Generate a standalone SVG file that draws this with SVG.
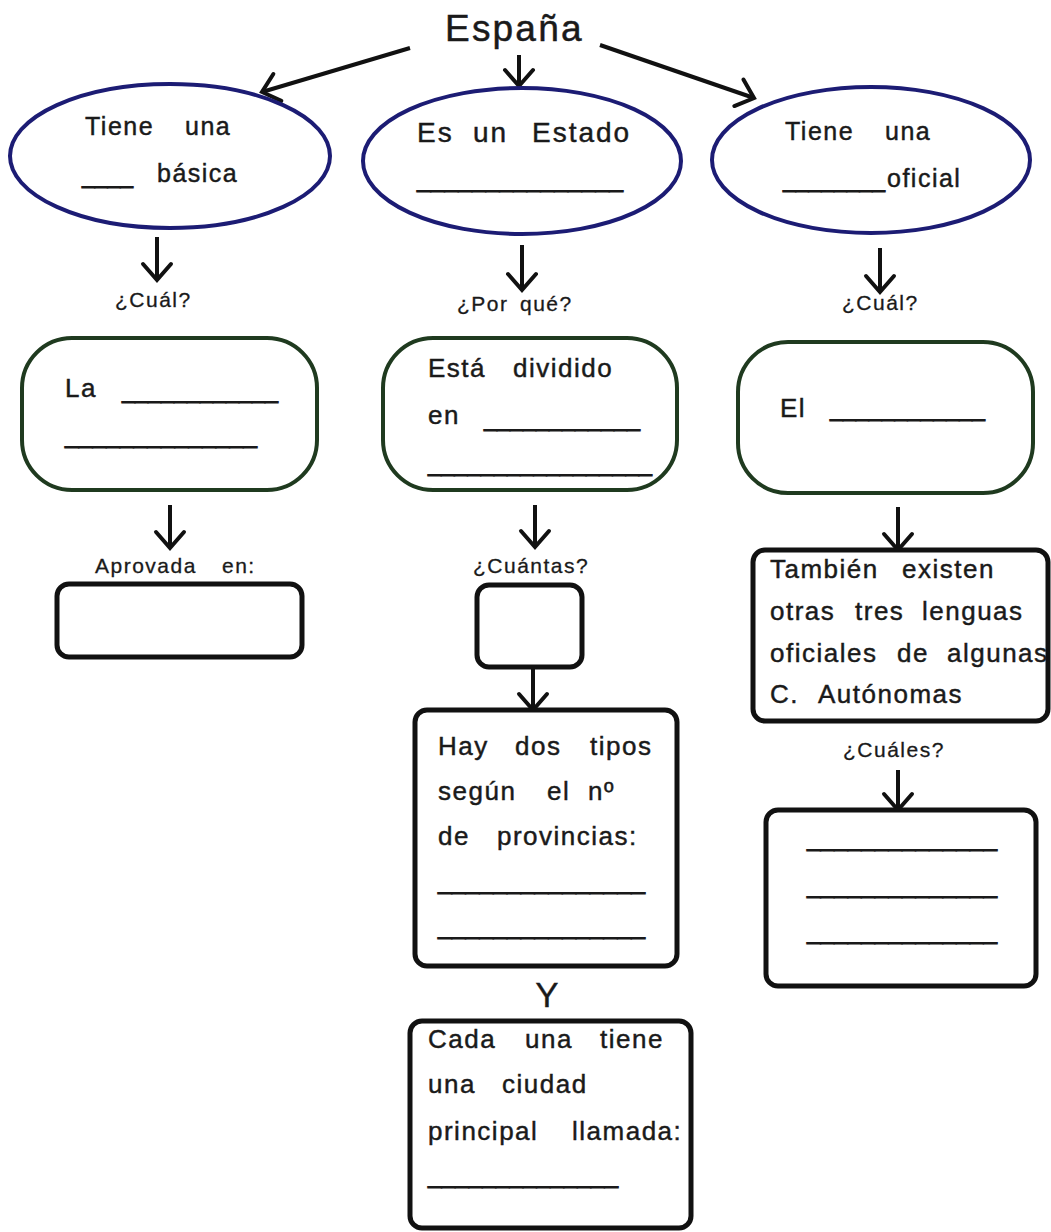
<svg xmlns="http://www.w3.org/2000/svg" width="1051" height="1232" viewBox="0 0 1051 1232">
<defs>
<style>
text{font-family:"Liberation Sans",Arial,sans-serif;fill:#1a1a1a;stroke:#1a1a1a;stroke-width:0.45px}
.t{font-size:26px;letter-spacing:1.5px}
.te{font-size:25px;letter-spacing:1.5px}
.tm{font-size:28px;letter-spacing:2px}
.lb{font-size:21px;letter-spacing:1.5px;stroke-width:0.3px}
.u{font-size:24px;stroke-width:0.9px}
.title{font-size:37px;letter-spacing:2.2px;stroke-width:0.5px}
.ell{fill:#fff;stroke:#1c1c74;stroke-width:4}
.grn{fill:#fff;stroke:#1f3a1f;stroke-width:4}
.box{fill:#fff;stroke:#111;stroke-width:5}
.con{fill:none;stroke:#111;stroke-width:4}
</style>
<marker id="ah" markerUnits="userSpaceOnUse" markerWidth="40" markerHeight="40" viewBox="-20 -20 40 40" refX="0" refY="0" orient="auto">
<path d="M-16,-14 L0,0 L-16,14" fill="none" stroke="#111" stroke-width="4" stroke-linecap="round"/>
</marker>
</defs>
<rect width="1051" height="1232" fill="#fff"/>

<g id="espana">
<text class="title" x="445" y="41">España</text>
</g>

<g id="connectors">
<line class="con" x1="410" y1="48" x2="262" y2="92" marker-end="url(#ah)"/>
<line class="con" x1="519" y1="55" x2="519" y2="86" marker-end="url(#ah)"/>
<line class="con" x1="600" y1="45" x2="754" y2="98" marker-end="url(#ah)"/>
<line class="con" x1="157" y1="237" x2="157" y2="280" marker-end="url(#ah)"/>
<line class="con" x1="522" y1="245" x2="522" y2="290" marker-end="url(#ah)"/>
<line class="con" x1="880" y1="248" x2="880" y2="292" marker-end="url(#ah)"/>
<line class="con" x1="170" y1="505" x2="170" y2="548" marker-end="url(#ah)"/>
<line class="con" x1="535" y1="505" x2="535" y2="547" marker-end="url(#ah)"/>
<line class="con" x1="533" y1="668" x2="533" y2="710" marker-end="url(#ah)"/>
<line class="con" x1="898" y1="507" x2="898" y2="550" marker-end="url(#ah)"/>
<line class="con" x1="898" y1="770" x2="898" y2="810" marker-end="url(#ah)"/>
</g>

<g id="ellipse-left">
<ellipse class="ell" cx="170" cy="156" rx="160" ry="72"/>
<text class="te" y="135"><tspan x="85">Tiene</tspan> <tspan x="185">una</tspan></text>
<text class="u" x="82" y="183" textLength="51" lengthAdjust="spacingAndGlyphs">____</text>
<text class="te" x="157" y="182">básica</text>
</g>

<g id="ellipse-mid">
<ellipse class="ell" cx="522" cy="161" rx="159" ry="73"/>
<text class="tm" y="142"><tspan x="417">Es</tspan> <tspan x="473">un</tspan> <tspan x="532">Estado</tspan></text>
<text class="u" x="417" y="187" textLength="206" lengthAdjust="spacingAndGlyphs">_______________</text>
</g>

<g id="ellipse-right">
<ellipse class="ell" cx="871" cy="160" rx="159" ry="73"/>
<text class="te" y="140"><tspan x="785">Tiene</tspan> <tspan x="885">una</tspan></text>
<text class="u" x="783" y="187" textLength="102" lengthAdjust="spacingAndGlyphs">________</text>
<text class="te" x="887" y="187">oficial</text>
</g>

<g id="label-cual-left"><text class="lb" x="115" y="307">¿Cuál?</text></g>
<g id="label-porque"><text class="lb" y="311"><tspan x="457">¿Por</tspan> <tspan x="520">qué?</tspan></text></g>
<g id="label-cual-right"><text class="lb" x="842" y="310">¿Cuál?</text></g>

<g id="green-left">
<rect class="grn" x="22" y="338" width="295" height="152" rx="50"/>
<text class="t" x="65" y="397">La</text>
<text class="u" x="122" y="398" textLength="156" lengthAdjust="spacingAndGlyphs">____________</text>
<text class="u" x="65" y="443" textLength="192" lengthAdjust="spacingAndGlyphs">______________</text>
</g>

<g id="green-mid">
<rect class="grn" x="383" y="338" width="294" height="152" rx="50"/>
<text class="t" y="377"><tspan x="428">Está</tspan> <tspan x="513">dividido</tspan></text>
<text class="t" x="428" y="424">en</text>
<text class="u" x="484" y="426" textLength="156" lengthAdjust="spacingAndGlyphs">____________</text>
<text class="u" x="428" y="471" textLength="224" lengthAdjust="spacingAndGlyphs">_________________</text>
</g>

<g id="green-right">
<rect class="grn" x="738" y="342" width="295" height="151" rx="50"/>
<text class="t" x="780" y="417">El</text>
<text class="u" x="830" y="416" textLength="155" lengthAdjust="spacingAndGlyphs">____________</text>
</g>

<g id="aprobada">
<text class="lb" y="573"><tspan x="95">Aprovada</tspan> <tspan x="222">en:</tspan></text>
<rect class="box" x="57" y="584" width="245" height="73" rx="12"/>
</g>

<g id="cuantas">
<text class="lb" x="473" y="573">¿Cuántas?</text>
<rect class="box" x="477" y="585" width="105" height="82" rx="12"/>
</g>

<g id="tipos">
<rect class="box" x="415" y="710" width="262" height="256" rx="12"/>
<text class="t" y="755"><tspan x="438">Hay</tspan> <tspan x="515">dos</tspan> <tspan x="590">tipos</tspan></text>
<text class="t" y="800"><tspan x="438">según</tspan> <tspan x="547">el</tspan> <tspan x="588">nº</tspan></text>
<text class="t" y="845"><tspan x="438">de</tspan> <tspan x="497">provincias:</tspan></text>
<text class="u" x="438" y="889" textLength="207" lengthAdjust="spacingAndGlyphs">_______________</text>
<text class="u" x="438" y="934" textLength="207" lengthAdjust="spacingAndGlyphs">_______________</text>
</g>

<g id="y-label"><text x="547" y="1007" text-anchor="middle" style="font-size:35px;stroke-width:0.3px">Y</text></g>

<g id="ciudad">
<rect class="box" x="410" y="1021" width="281" height="207" rx="12"/>
<text class="t" y="1048"><tspan x="428">Cada</tspan> <tspan x="525">una</tspan> <tspan x="600">tiene</tspan></text>
<text class="t" y="1093"><tspan x="428">una</tspan> <tspan x="502">ciudad</tspan></text>
<text class="t" y="1140"><tspan x="428">principal</tspan> <tspan x="572">llamada:</tspan></text>
<text class="u" x="428" y="1183" textLength="190" lengthAdjust="spacingAndGlyphs">______________</text>
</g>

<g id="lenguas">
<rect class="box" x="753" y="550" width="295" height="171" rx="12"/>
<text class="t" y="578"><tspan x="770">También</tspan> <tspan x="902">existen</tspan></text>
<text class="t" y="620"><tspan x="770">otras</tspan> <tspan x="855">tres</tspan> <tspan x="922">lenguas</tspan></text>
<text class="t" y="662"><tspan x="770">oficiales</tspan> <tspan x="897">de</tspan> <tspan x="947">algunas</tspan></text>
<text class="t" y="703"><tspan x="770">C.</tspan> <tspan x="818">Autónomas</tspan></text>
</g>

<g id="cuales">
<text class="lb" x="843" y="757">¿Cuáles?</text>
<rect class="box" x="766" y="810" width="270" height="176" rx="12"/>
<text class="u" x="807" y="846" textLength="190" lengthAdjust="spacingAndGlyphs">______________</text>
<text class="u" x="807" y="893" textLength="190" lengthAdjust="spacingAndGlyphs">______________</text>
<text class="u" x="807" y="939" textLength="190" lengthAdjust="spacingAndGlyphs">______________</text>
</g>
</svg>
